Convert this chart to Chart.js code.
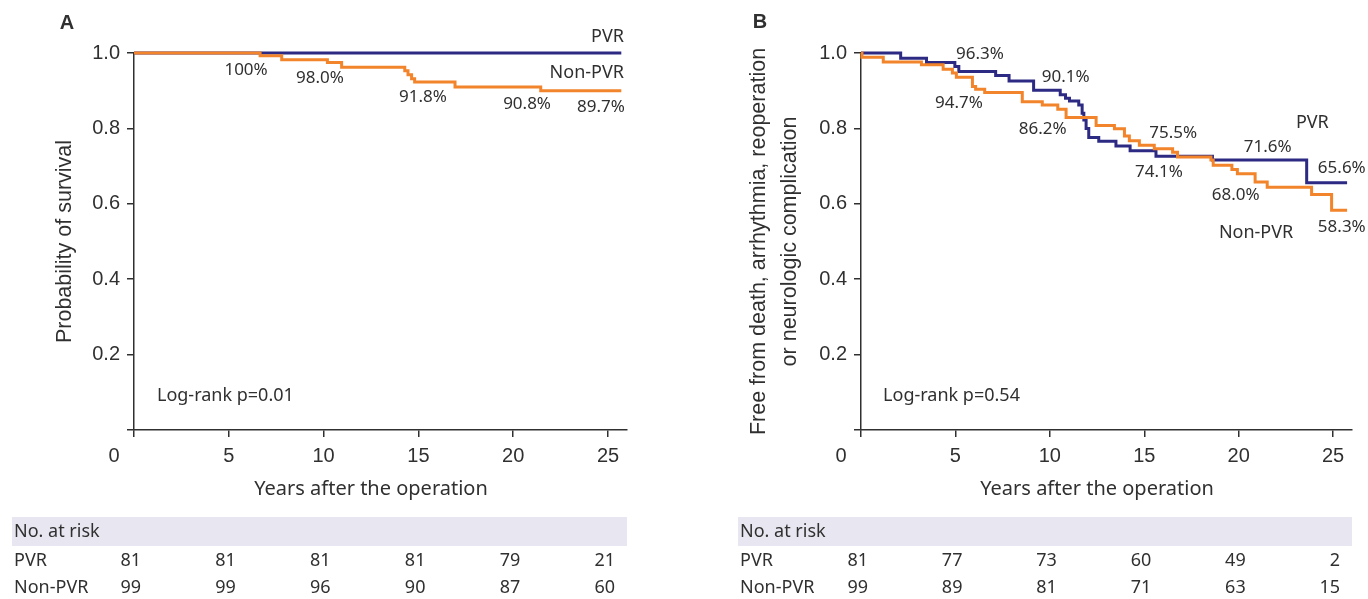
<!DOCTYPE html>
<html><head><meta charset="utf-8">
<script src="https://cdn.jsdelivr.net/npm/chart.js@4.4.0/dist/chart.umd.min.js"></script>
<style>
html,body{margin:0;padding:0;background:#fff;width:1368px;height:599px;overflow:hidden}
.wrap{position:absolute;top:0;width:684px;height:599px}
canvas{display:block}
</style></head><body>
<div class="wrap" style="left:0"><canvas id="cA" width="684" height="599"></canvas></div>
<div class="wrap" style="left:684px"><canvas id="cB" width="684" height="599"></canvas></div>
<script>
// ---------- data ----------
const xTicks = [0, 5, 10, 15, 20, 25];
const yTicks = [0, 0.2, 0.4, 0.6, 0.8, 1.0];
const riskTimes = [0, 5, 10, 15, 20, 25];

// Panel A: survival
const aPvrTime = [0, 25.7];
const aPvrSurv = [1.0, 1.0];
const aNonTime = [0, 6.65, 7.79, 10.2, 10.95, 14.28, 14.45, 14.64, 14.8, 16.93, 21.45, 25.7];
const aNonSurv = [1.0, 0.993, 0.982, 0.975, 0.962, 0.953, 0.942, 0.932, 0.923, 0.910, 0.900, 0.900];
const aRiskPvr = [81, 81, 81, 81, 79, 21];
const aRiskNon = [99, 99, 96, 90, 87, 60];
const aPctText = ['100%', '98.0%', '91.8%', '90.8%', '89.7%'];
const aLogRank = 'Log-rank p=0.01';

// Panel B: composite endpoint
const bPvrTime = [0, 2.1, 3.47, 4.97, 5.18, 7.13, 7.84, 9.14, 10.55, 10.83, 11.04, 11.53, 11.71, 11.8, 11.92, 12.06, 12.59, 13.5, 14.25, 15.62, 18.61, 23.6, 25.74];
const bPvrSurv = [1.0, 0.986, 0.975, 0.964, 0.951, 0.940, 0.926, 0.901, 0.889, 0.880, 0.873, 0.862, 0.840, 0.822, 0.800, 0.776, 0.766, 0.753, 0.741, 0.726, 0.716, 0.656, 0.656];
const bNonTime = [0, 0.05, 1.18, 3.2, 4.35, 4.84, 5.05, 5.9, 6.07, 6.55, 8.54, 9.6, 10.42, 10.86, 12.45, 13.42, 13.95, 14.21, 14.74, 15.53, 16.5, 16.76, 18.53, 18.65, 19.64, 19.93, 20.87, 21.51, 23.86, 24.92, 25.74];
const bNonSurv = [1.0, 0.989, 0.976, 0.969, 0.957, 0.947, 0.936, 0.911, 0.904, 0.895, 0.871, 0.862, 0.851, 0.829, 0.808, 0.799, 0.780, 0.767, 0.755, 0.746, 0.737, 0.724, 0.716, 0.702, 0.691, 0.680, 0.658, 0.644, 0.625, 0.583, 0.583];
const bRiskPvr = [81, 77, 73, 60, 49, 2];
const bRiskNon = [99, 89, 81, 71, 63, 15];
const bPctText = ['96.3%', '90.1%', '94.7%', '86.2%', '75.5%', '74.1%', '71.6%', '65.6%', '68.0%', '58.3%'];
const bLogRank = 'Log-rank p=0.54';

const groupNames = ['PVR', 'Non-PVR'];
const xTitle = 'Years after the operation';

// ---------- layout / style ----------
const FONT_T = '"Noto Sans", "Open Sans", sans-serif';
const FONT_A = '"Liberation Sans", Arial, sans-serif';
const BLUE = '#2d2a84', ORANGE = '#f2842b', INK = '#303030';

const layoutA = {
  letter: 'A', letterXY: [67, 23], padRight: 57, yWidth: 134, bandLeft: 12,
  yTitle: 'Probability of survival', yTitleLH: 1.2, yTitlePad: 52.6,
  pctPos: [[5.91, 0.955], [9.81, 0.934], [15.24, 0.883], [20.73, 0.865], [24.63, 0.857]],
  groupPos: [[25.84, 1.042, 'right'], [25.84, 0.947, 'right']],
  logPos: [1.21, 0.09]
};
const layoutB = {
  letter: 'B', letterXY: [76, 22], padRight: 16, yWidth: 177, bandLeft: 54,
  yTitle: ['Free from death, arrhythmia, reoperation', 'or neurologic complication'], yTitleLH: 1.442, yTitlePad: 59.5,
  pctPos: [[6.30, 0.997], [10.84, 0.936], [5.19, 0.868], [9.62, 0.798], [16.53, 0.788], [15.78, 0.684], [21.54, 0.749], [25.46, 0.695], [19.84, 0.623], [25.46, 0.539]],
  groupPos: [[23.9, 0.815, 'center'], [20.92, 0.523, 'center']],
  logPos: [1.17, 0.09]
};

function pts(t, s) { return t.map((v, i) => ({ x: v, y: s[i] })); }

function textPlugin(L, pctText, logText, riskPvr, riskNon) {
  return {
    id: 'txt' + L.letter,
    afterDraw(chart) {
      const ctx = chart.ctx, xs = chart.scales.x, ys = chart.scales.y;
      ctx.save();
      ctx.fillStyle = INK;
      ctx.textBaseline = 'middle';
      // panel letter
      ctx.font = 'bold 20px ' + FONT_A;
      ctx.textAlign = 'center';
      ctx.fillText(L.letter, L.letterXY[0], L.letterXY[1]);
      // shared origin label
      ctx.font = '20px ' + FONT_A;
      ctx.fillText('0', xs.getPixelForValue(0) - 20, xs.top + 26);
      // x title
      ctx.font = '20px ' + FONT_T;
      ctx.fillText(xTitle, (xs.getPixelForValue(0) + xs.getPixelForValue(25)) / 2, 489);
      // percentages
      ctx.font = '17px ' + FONT_T;
      pctText.forEach((t, i) => {
        ctx.fillText(t, xs.getPixelForValue(L.pctPos[i][0]), ys.getPixelForValue(L.pctPos[i][1]));
      });
      // group labels
      ctx.font = '18px ' + FONT_T;
      groupNames.forEach((g, i) => {
        const p = L.groupPos[i];
        ctx.textAlign = p[2];
        ctx.fillText(g, xs.getPixelForValue(p[0]), ys.getPixelForValue(p[1]));
      });
      // log-rank
      ctx.font = '18px ' + FONT_T;
      ctx.textAlign = 'left';
      ctx.fillText(logText, xs.getPixelForValue(L.logPos[0]), ys.getPixelForValue(L.logPos[1]));
      // risk table
      ctx.fillStyle = '#e8e7f1';
      ctx.fillRect(L.bandLeft, 517, xs.right - L.bandLeft, 29);
      ctx.fillStyle = INK;
      ctx.font = '18px ' + FONT_T;
      ctx.textAlign = 'left';
      ctx.fillText('No. at risk', L.bandLeft + 2, 532);
      ctx.fillText(groupNames[0], L.bandLeft + 2, 561);
      ctx.fillText(groupNames[1], L.bandLeft + 2, 588);
      ctx.textAlign = 'right';
      riskTimes.forEach((t, i) => {
        const px = xs.getPixelForValue(t) + 7;
        ctx.fillText(String(riskPvr[i]), px, 561);
        ctx.fillText(String(riskNon[i]), px, 588);
      });
      ctx.restore();
    }
  };
}

function makeChart(id, L, pvrT, pvrS, nonT, nonS, pctText, logText, riskPvr, riskNon) {
  return new Chart(document.getElementById(id), {
    type: 'line',
    data: {
      datasets: [
        { label: groupNames[1], data: pts(nonT, nonS), borderColor: ORANGE, borderWidth: 3, stepped: true, pointRadius: 0, fill: false, clip: 6 },
        { label: groupNames[0], data: pts(pvrT, pvrS), borderColor: BLUE, borderWidth: 3, stepped: true, pointRadius: 0, fill: false, clip: 6 }
      ]
    },
    options: {
      responsive: false, animation: false, devicePixelRatio: 1,
      layout: { padding: { left: 0, top: 53, right: L.padRight, bottom: 89 } },
      plugins: { legend: { display: false }, tooltip: { enabled: false } },
      scales: {
        x: {
          type: 'linear', min: 0, max: 26,
          afterBuildTicks: s => { s.ticks = xTicks.map(v => ({ value: v })); },
          ticks: { callback: v => (v === 0 ? '' : String(v)), font: { family: FONT_A, size: 20 }, color: INK, padding: 7, maxRotation: 0, autoSkip: false },
          grid: { display: true, drawOnChartArea: false, drawTicks: true, tickLength: 7, color: INK, lineWidth: 1.5 },
          border: { display: true, color: INK, width: 1.5 },
          afterFit: s => { s.height = 80; s.paddingLeft = 0; s.paddingRight = 0; }
        },
        y: {
          type: 'linear', min: 0, max: 1,
          afterBuildTicks: s => { s.ticks = yTicks.map(v => ({ value: v })); },
          ticks: { callback: v => (v === 0 ? '' : v.toFixed(1)), font: { family: FONT_A, size: 20 }, color: INK, padding: 7, autoSkip: false },
          grid: { display: true, drawOnChartArea: false, drawTicks: true, tickLength: 7, color: INK, lineWidth: 1.5 },
          border: { display: true, color: INK, width: 1.5 },
          title: { display: true, text: L.yTitle, color: INK, font: { family: FONT_A, size: 21.5, lineHeight: L.yTitleLH }, padding: { top: L.yTitlePad, bottom: 0 } },
          afterFit: s => { s.width = L.yWidth; s.paddingTop = 0; s.paddingBottom = 0; }
        }
      }
    },
    plugins: [textPlugin(L, pctText, logText, riskPvr, riskNon)]
  });
}

makeChart('cA', layoutA, aPvrTime, aPvrSurv, aNonTime, aNonSurv, aPctText, aLogRank, aRiskPvr, aRiskNon);
makeChart('cB', layoutB, bPvrTime, bPvrSurv, bNonTime, bNonSurv, bPctText, bLogRank, bRiskPvr, bRiskNon);
</script>
</body></html>
